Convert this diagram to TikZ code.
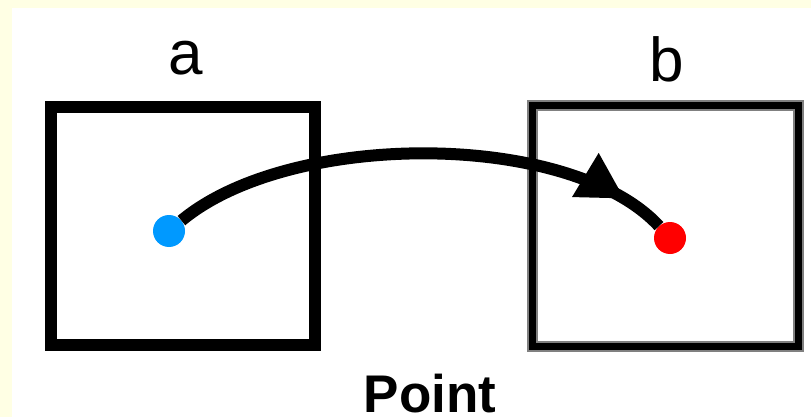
\documentclass[tikz,border=0pt]{standalone}
\usepackage{fontspec}
\setmainfont{Liberation Sans}
\usepackage{xcolor}
\usepackage{tikz}
\usetikzlibrary{arrows.meta,positioning,decorations.markings}
\definecolor{bgyellow}{RGB}{255,255,228}
\definecolor{dotblue}{RGB}{0,153,255}
\definecolor{dotred}{RGB}{255,0,0}
\tikzset{
  pointbox/.style={
    rectangle,
    draw=black,
    line width=12pt,
    minimum width=264pt,
    minimum height=238pt,
    inner sep=0pt
  },
  pointbox2/.style={
    rectangle,
    draw=gray,
    line width=2pt,
    double=black,
    double distance=7pt,
    minimum width=266pt,
    minimum height=240pt,
    inner sep=0pt
  },
  pointdot/.style={
    circle,
    minimum size=32pt,
    inner sep=0pt
  },
  boxlabel/.style={
    font=\fontsize{62}{62}\selectfont,
    inner sep=0pt,
    anchor=base
  },
  move/.style={
    line width=12pt,
    postaction={decorate},
    decoration={markings,
      mark=at position -44pt with {\arrow{Triangle[length=46pt,width=48pt]}}}
  }
}
\begin{document}
\begin{tikzpicture}[x=1pt,y=-1pt]
\useasboundingbox (0,0) rectangle (811,417);
\fill[bgyellow] (0,0) rectangle (811,417);
\fill[white] (12,8) rectangle (811,417);
\node[pointbox] (boxa) at (183,226) {};
\node[pointbox2] (boxb) at (665,226) {};
\node[boxlabel] (labela) at (186,75) {a};
\node[boxlabel] (labelb) at (667,82) {b};
\node[boxlabel, font=\fontsize{53}{53}\selectfont\bfseries] (title) at (430,412) {Point};
\node[pointdot, fill=dotblue] (dota) at (169,231) {};
\node[pointdot, fill=dotred] (dotb) at (670,238) {};
\draw[move] (dota) .. controls (290,130) and (570,130) .. (dotb);
\end{tikzpicture}
\end{document}
